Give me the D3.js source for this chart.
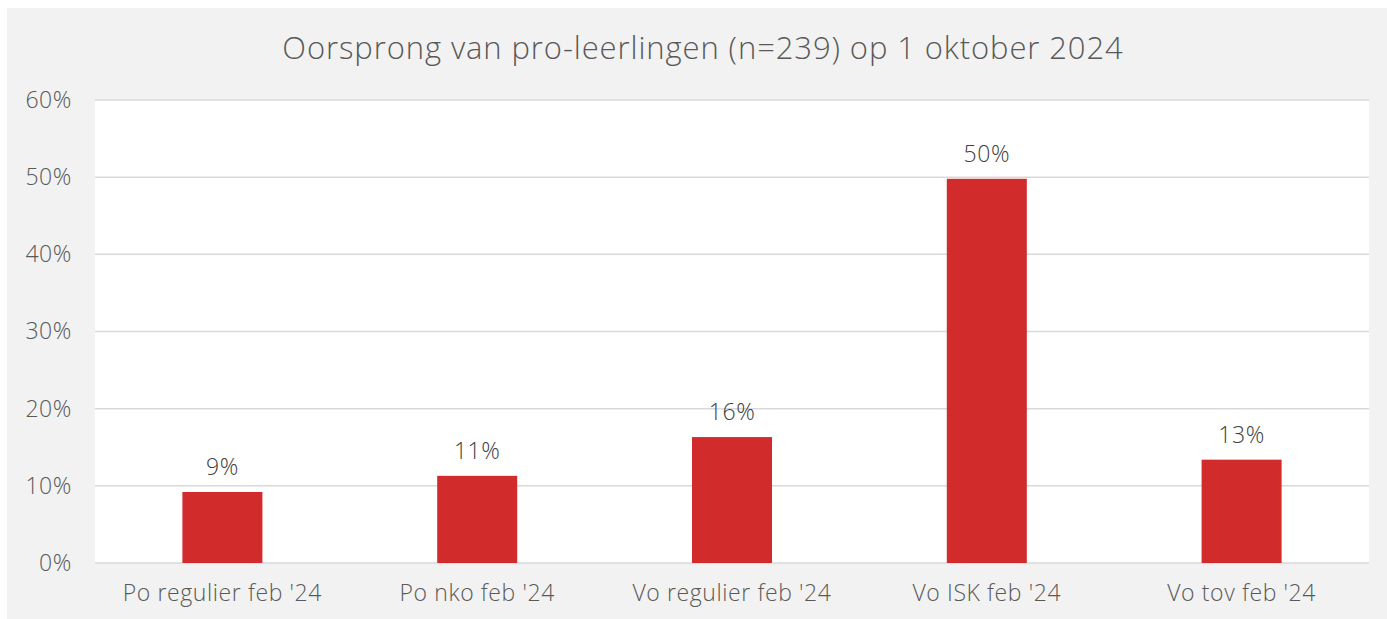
<!DOCTYPE html>
<html>
<head>
<meta charset="utf-8">
<script src="https://cdn.jsdelivr.net/npm/d3@7"></script>
<style>
  body { margin: 0; background: #fff; }
  svg text { font-family: "Open Sans", "Noto Sans", sans-serif; font-weight: 300; }
</style>
</head>
<body>
<div id="chart"></div>
<script>
// data
var categories = ["Po regulier feb '24", "Po nko feb '24", "Vo regulier feb '24", "Vo ISK feb '24", "Vo tov feb '24"];
var counts = [22, 27, 39, 119, 32];
var total = 239;
var yTicks = [0, 0.1, 0.2, 0.3, 0.4, 0.5, 0.6];
var title = "Oorsprong van pro-leerlingen (n=239) op 1 oktober 2024";

var W = 1387, H = 619;
var margin = { top: 100, right: 18, bottom: 56, left: 95 };

var svg = d3.select("#chart").append("svg")
  .attr("width", W)
  .attr("height", H);

// chart area background
svg.append("rect")
  .attr("x", 7).attr("y", 8)
  .attr("width", W - 7).attr("height", H - 8)
  .attr("fill", "#f2f2f2");

var x = d3.scaleBand()
  .domain(categories)
  .range([margin.left, W - margin.right])
  .paddingInner(0.686).paddingOuter(0.343);

var y = d3.scaleLinear()
  .domain([0, 0.6])
  .range([H - margin.bottom, margin.top]);

// plot area
svg.append("rect")
  .attr("x", margin.left).attr("y", margin.top)
  .attr("width", W - margin.right - margin.left)
  .attr("height", H - margin.bottom - margin.top)
  .attr("fill", "#fff");

// gridlines
svg.append("g")
  .selectAll("line")
  .data(yTicks)
  .enter()
  .append("line")
  .attr("x1", margin.left)
  .attr("x2", W - margin.right)
  .attr("y1", function (d) { return y(d); })
  .attr("y2", function (d) { return y(d); })
  .attr("stroke", "#d9d9d9")
  .attr("stroke-width", 1.5);

// y axis
var yAxis = svg.append("g")
  .attr("transform", "translate(" + (margin.left - 23) + ",0)")
  .call(d3.axisLeft(y).tickValues(yTicks).tickFormat(d3.format(".0%")).tickSize(0).tickPadding(0));
yAxis.select(".domain").remove();
yAxis.selectAll("text")
  .attr("fill", "#595959")
  .style("font-size", "23px")
  .style("letter-spacing", "0.6px");

// x axis
var xAxis = svg.append("g")
  .attr("transform", "translate(0," + (H - margin.bottom) + ")")
  .call(d3.axisBottom(x).tickSize(0).tickPadding(22));
xAxis.select(".domain").remove();
xAxis.selectAll("text")
  .attr("fill", "#595959")
  .style("font-size", "23px")
  .style("letter-spacing", "0.6px");

// bars
var values = counts.map(function (c) { return c / total; });

svg.append("g")
  .selectAll("rect")
  .data(values)
  .enter()
  .append("rect")
  .attr("x", function (d, i) { return x(categories[i]); })
  .attr("y", function (d) { return y(d); })
  .attr("width", x.bandwidth())
  .attr("height", function (d) { return y(0) - y(d); })
  .attr("fill", "#d22b2b");

// data labels
svg.append("g")
  .selectAll("text")
  .data(values)
  .enter()
  .append("text")
  .attr("x", function (d, i) { return x(categories[i]) + x.bandwidth() / 2; })
  .attr("y", function (d) { return y(d) - 17; })
  .attr("text-anchor", "middle")
  .attr("fill", "#404040")
  .style("font-size", "23px")
  .style("letter-spacing", "0.6px")
  .text(function (d) { return d3.format(".0%")(d); });

// title
svg.append("text")
  .attr("x", 703)
  .attr("y", 59)
  .attr("text-anchor", "middle")
  .attr("fill", "#595959")
  .style("font-size", "31px")
  .style("letter-spacing", "0.9px")
  .text(title);
</script>
</body>
</html>
